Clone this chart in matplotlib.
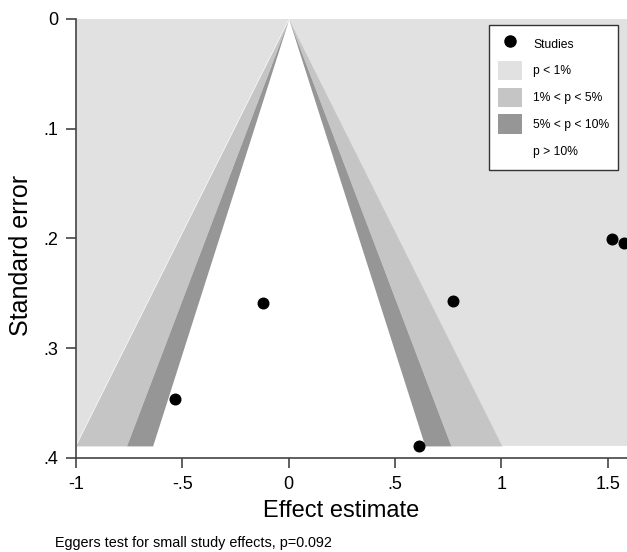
import numpy as np
import matplotlib.pyplot as plt
from matplotlib.patches import Patch
from matplotlib.lines import Line2D

plt.rcParams['font.family'] = ['Liberation Sans', 'DejaVu Sans']

# --- data ---
effect = [-0.12, -0.535, 0.61, 0.77, 1.52, 1.578]
se = [0.259, 0.346, 0.389, 0.257, 0.2005, 0.204]

# contour levels (two-sided z for 10%, 5%, 1%)
z_levels = [1.645, 1.96, 2.576]
contour_labels = ['p < 1%', '1% < p < 5%', '5% < p < 10%', 'p > 10%']
colors = ['#e1e1e1', '#c5c5c5', '#969696', 'white']

xticks = [-1, -0.5, 0, 0.5, 1, 1.5]
xtick_labels = ['-1', '-.5', '0', '.5', '1', '1.5']
yticks = [0, 0.1, 0.2, 0.3, 0.4]
ytick_labels = ['0', '.1', '.2', '.3', '.4']

fig = plt.figure(figsize=(6.27, 5.52), dpi=100)
ax = fig.add_axes([0.1212, 0.1703, 0.8788, 0.7953])

xmin, xmax = -1, 1.59
se_max = max(se)
s = np.array([0, se_max])
z10, z5, z1 = z_levels

# bands drawn side by side so nothing overlaps (white centre left empty)
for sign in (-1, 1):
    ax.fill_betweenx(s, sign * z1 * s, sign * (abs(xmin) + 2), color=colors[0], lw=0)
    ax.fill_betweenx(s, sign * z5 * s, sign * z1 * s, color=colors[1], lw=0)
    ax.fill_betweenx(s, sign * z10 * s, sign * z5 * s, color=colors[2], lw=0)

ax.scatter(effect, se, s=58, color='black', zorder=5, clip_on=False)

ax.set_xlim(xmin, xmax)
ax.set_ylim(0.4, 0)
ax.set_xticks(xticks)
ax.set_xticklabels(xtick_labels)
ax.set_yticks(yticks)
ax.set_yticklabels(ytick_labels)
ax.tick_params(labelsize=13, length=7, width=1.2, color='#444444', pad=6)

for side in ['top', 'right']:
    ax.spines[side].set_visible(False)
for side in ['left', 'bottom']:
    ax.spines[side].set_linewidth(1.2)
    ax.spines[side].set_color('#444444')

ax.set_xlabel('Effect estimate', fontsize=17)
ax.set_ylabel('Standard error', fontsize=18)
ax.xaxis.set_label_coords(0.481, -0.095)
ax.yaxis.set_label_coords(-0.078, 0.462)

handles = [Line2D([], [], marker='o', ls='none', color='black', markersize=8)]
for c in colors:
    handles.append(Patch(facecolor=c, edgecolor='none'))
leg = ax.legend(handles, ['Studies'] + contour_labels, loc='upper right',
                bbox_to_anchor=(0.984, 0.986), borderaxespad=0,
                fontsize=8.7, frameon=True, fancybox=False, framealpha=1,
                handlelength=2.0, handleheight=2.1, labelspacing=0.6,
                borderpad=0.75, handletextpad=0.9)
leg.get_frame().set_edgecolor('#333333')
leg.get_frame().set_linewidth(1.0)

fig.text(0.0877, 0.0163, 'Eggers test for small study effects, p=0.092',
         fontsize=10.4, va='center')

fig.savefig('out.png', dpi=100)
